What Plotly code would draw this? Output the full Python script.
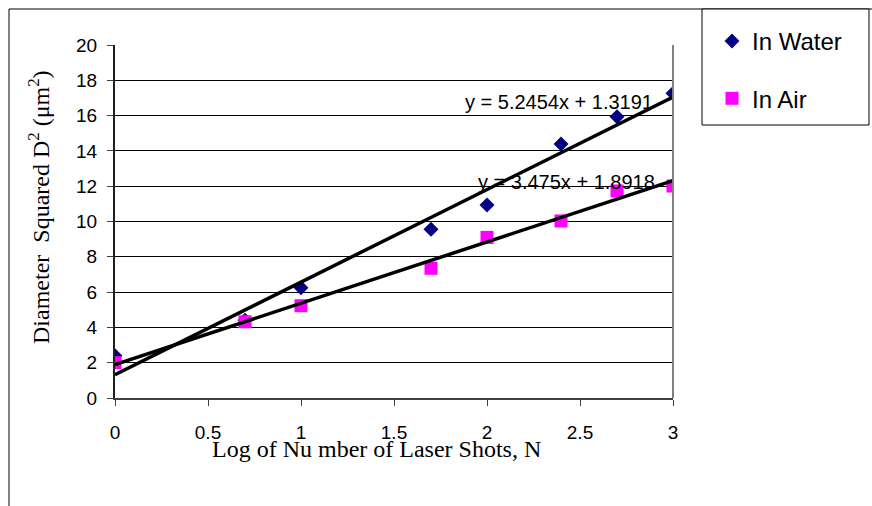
import plotly.graph_objects as go

# ---- data ----
log_n = [0, 0.699, 1, 1.699, 2, 2.398, 2.699, 3]
water = [2.4, 4.4, 6.25, 9.56, 10.93, 14.39, 15.94, 17.26]
air = [2.0, 4.32, 5.23, 7.35, 9.1, 10.03, 11.73, 12.01]
water_slope, water_icpt = 5.2454, 1.3191
air_slope, air_icpt = 3.475, 1.8918
trend_x = [0, 3]
x_ticks = [0, 0.5, 1, 1.5, 2, 2.5, 3]
x_tick_text = ["0", "0.5", "1", "1.5", "2", "2.5", "3"]
y_ticks = [0, 2, 4, 6, 8, 10, 12, 14, 16, 18, 20]

SANS = "Liberation Sans, Arial, sans-serif"
SERIF = "Liberation Serif, Times New Roman, serif"

fig = go.Figure()
fig.add_trace(go.Scatter(
    x=log_n, y=water, mode="markers", name="In Water",
    marker=dict(symbol="diamond", size=11.5, color="#000080", line=dict(width=0)),
    legendgroup="w",
))
fig.add_trace(go.Scatter(
    x=log_n, y=air, mode="markers", name="In Air",
    marker=dict(symbol="square", size=13, color="#FF00FF", line=dict(width=0)),
    legendgroup="a",
))
fig.add_trace(go.Scatter(
    x=trend_x, y=[water_icpt + water_slope * v for v in trend_x], mode="lines",
    line=dict(color="black", width=3.5), showlegend=False, hoverinfo="skip",
))
fig.add_trace(go.Scatter(
    x=trend_x, y=[air_icpt + air_slope * v for v in trend_x], mode="lines",
    line=dict(color="black", width=3.5), showlegend=False, hoverinfo="skip",
))

W, H = 872, 506
L, R, T, B = 115, 673, 45, 398
pw, ph = R - L, B - T


def px(x):
    return (x - L) / pw


def py(y):
    return (B - y) / ph


fig.update_layout(
    width=W, height=H,
    margin=dict(l=L, r=W - R, t=T, b=H - B),
    paper_bgcolor="white", plot_bgcolor="white",
    font=dict(family=SANS, color="black", size=19),
    showlegend=True,
    legend=dict(
        x=px(712), y=py(19), xanchor="left", yanchor="top",
        font=dict(family=SANS, size=24, color="black"),
        bgcolor="rgba(0,0,0,0)", borderwidth=0,
        traceorder="grouped", tracegroupgap=23,
        itemwidth=30,
    ),
    xaxis=dict(
        range=[0, 3], tickvals=x_ticks, ticktext=x_tick_text,
        showgrid=False, zeroline=False,
        showline=True, linecolor="#404040", linewidth=2,
        ticks="outside", ticklen=6, tickcolor="#404040", tickwidth=1,
        ticklabelstandoff=10,
        tickfont=dict(family=SANS, size=19, color="black"),
    ),
    yaxis=dict(
        range=[0, 20], tickvals=y_ticks,
        showgrid=True, gridcolor="black", gridwidth=1,
        zeroline=False,
        showline=True, linecolor="#202020", linewidth=2,
        ticks="outside", ticklen=6, tickcolor="#404040", tickwidth=1,
        ticklabelstandoff=6,
        tickfont=dict(family=SANS, size=19, color="black"),
    ),
    shapes=[
        # chart area frame (extends past the window)
        dict(type="rect", xref="paper", yref="paper",
             x0=px(9), x1=px(1000), y0=py(9), y1=py(700),
             line=dict(color="black", width=1), fillcolor="rgba(0,0,0,0)", layer="below"),
        # right edge of plot area
        dict(type="line", xref="paper", yref="paper",
             x0=1, x1=1, y0=0, y1=1, line=dict(color="#808080", width=2)),
        # legend box
        dict(type="rect", xref="paper", yref="paper",
             x0=px(702), x1=px(869), y0=py(9), y1=py(125),
             line=dict(color="black", width=1), fillcolor="white", layer="below"),
    ],
    annotations=[
        dict(text=f"y = {water_slope}x + {water_icpt}", x=2.387, y=16.79,
             xref="x", yref="y", showarrow=False, xanchor="center", yanchor="middle",
             font=dict(family=SANS, size=20, color="black")),
        dict(text=f"y = {air_slope}x + {air_icpt}", x=2.43, y=12.25,
             xref="x", yref="y", showarrow=False, xanchor="center", yanchor="middle",
             font=dict(family=SANS, size=20, color="black")),
        dict(text="Log of Nu mber of Laser Shots, N", x=px(376), y=py(449),
             xref="paper", yref="paper", showarrow=False,
             xanchor="center", yanchor="middle",
             font=dict(family=SERIF, size=24, color="black")),
        dict(text="Diameter  Squared D<sup>2</sup> (\u03bcm<sup>2</sup>)", x=px(39), y=py(207),
             xref="paper", yref="paper", showarrow=False, textangle=-90,
             xanchor="center", yanchor="middle",
             font=dict(family=SERIF, size=24, color="black")),
    ],
)

fig.write_html("out.html")
